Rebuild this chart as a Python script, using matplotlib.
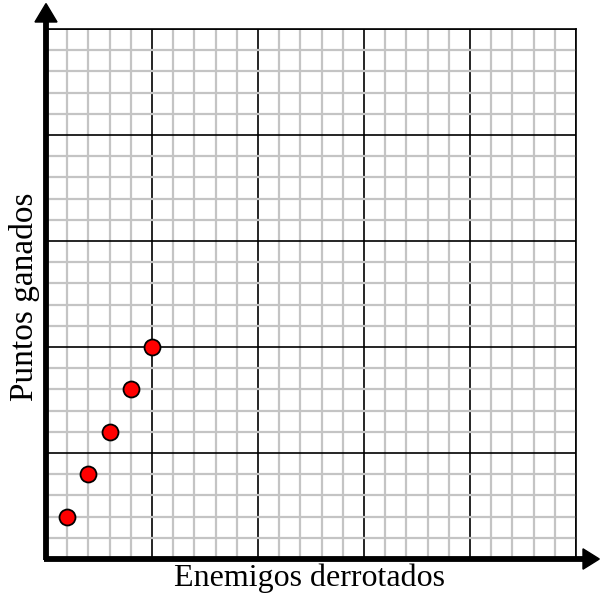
import numpy as np
import matplotlib.pyplot as plt

# data (minor cell = 1 unit)
enemigos = [1, 2, 3, 4, 5]
puntos = [2, 4, 6, 8, 10]
x_label = "Enemigos derrotados"
y_label = "Puntos ganados"

fig = plt.figure(figsize=(6.02, 5.94), dpi=100)
ax = fig.add_axes([46 / 602, 35 / 594, 530 / 602, 530 / 594])
ax.set_xlim(0, 25)
ax.set_ylim(0, 25)

# grid: grey minor lines, black major lines every 5
ax.set_xticks(np.arange(5, 26, 5))
ax.set_yticks(np.arange(5, 26, 5))
ax.set_xticks(np.arange(0, 26, 1), minor=True)
ax.set_yticks(np.arange(0, 26, 1), minor=True)
ax.grid(which="minor", color="#c4c4c4", lw=1.6, zorder=0)
ax.grid(which="major", color="black", lw=1.2, zorder=1)
ax.set_axisbelow(True)
ax.tick_params(which="both", length=0, labelbottom=False, labelleft=False)

for s in ["top", "right"]:
    ax.spines[s].set_linewidth(1.2)
for s in ["left", "bottom"]:
    ax.spines[s].set_visible(False)

# thick axes with arrow heads
ax.plot([0, 0], [-0.05, 25.4], color="black", lw=4.2, clip_on=False,
        solid_capstyle="butt", zorder=5)
ax.plot([-0.1, 25.4], [0, 0], color="black", lw=4.2, clip_on=False,
        solid_capstyle="butt", zorder=5)
ax.fill([-0.52, 0.52, 0], [25.33, 25.33, 26.2], color="black",
        clip_on=False, zorder=5)
ax.fill([25.33, 25.33, 26.1], [-0.48, 0.48, 0], color="black",
        clip_on=False, zorder=5)

ax.plot(enemigos, puntos, "o", ms=11.5, mfc="#ff0000", mec="black",
        mew=1.3, clip_on=False, zorder=6)

fig.text(310 / 602, 1 - 578 / 594, x_label, ha="center", va="center",
         family="Liberation Serif", fontsize=23)
fig.text(25 / 602, 1 - 297 / 594, y_label, ha="center", va="center",
         rotation=90, family="Liberation Serif", fontsize=24)

fig.savefig("out.png", dpi=100)
